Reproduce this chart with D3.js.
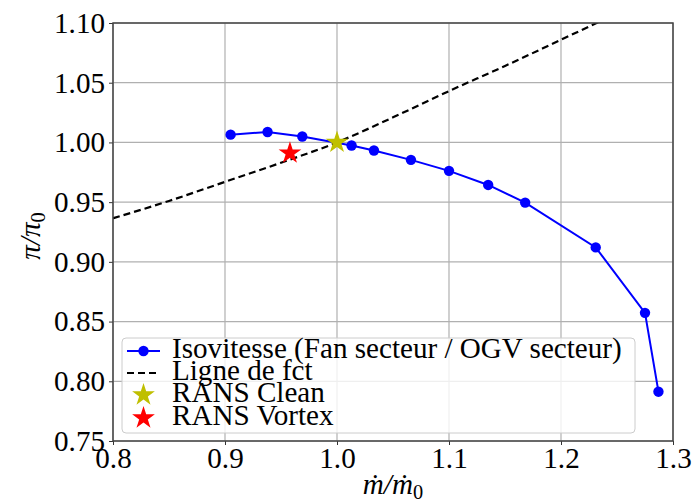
<!DOCTYPE html>
<html>
<head>
<meta charset="utf-8">
<script src="https://cdn.jsdelivr.net/npm/d3@7/dist/d3.min.js"></script>
<style>
  body { margin: 0; background: #fff; }
  svg { display: block; }
  svg text { font-family: "Liberation Serif", "Times New Roman", Times, "DejaVu Serif", serif; fill: #000; }
</style>
</head>
<body>
<svg id="chart" width="699" height="503"></svg>
<script>
// ---- data ----
const isoX = [0.905, 0.938, 0.969, 1.013, 1.033, 1.066, 1.100, 1.135, 1.168, 1.231, 1.275, 1.287];
const isoY = [1.0065, 1.0087, 1.005, 0.9974, 0.9932, 0.9854, 0.9762, 0.9644, 0.9496, 0.9121, 0.8573, 0.7913];
const fctX = [0.80, 0.85, 0.90, 0.95, 1.00, 1.05, 1.10, 1.15, 1.20, 1.25];
const fctY = [0.9365, 0.951, 0.967, 0.983, 1.000, 1.021, 1.043, 1.064, 1.086, 1.108];
const cleanPt = [1.000, 1.000];
const vortexPt = [0.958, 0.991];
const xTicks = [0.8, 0.9, 1.0, 1.1, 1.2, 1.3];
const yTicks = [0.75, 0.80, 0.85, 0.90, 0.95, 1.00, 1.05, 1.10];
const legendLabels = ["Isovitesse (Fan secteur / OGV secteur)", "Ligne de fct", "RANS Clean", "RANS Vortex"];

// ---- layout ----
const L = 113, R = 673, T = 23, B = 441;
const FONT = "'Liberation Serif', 'Times New Roman', Times, 'DejaVu Serif', serif";
const svg = d3.select("#chart");
const x = d3.scaleLinear().domain([0.8, 1.3]).range([L, R]);
const y = d3.scaleLinear().domain([0.75, 1.10]).range([B, T]);

// fit font size so the longest legend entry matches the reference width (~450px)
const probe = svg.append("text").attr("font-family", FONT).attr("font-size", 20).text(legendLabels[0]);
const w20 = probe.node().getComputedTextLength();
probe.remove();
const FS = Math.max(18, Math.min(34, 20 * 450 / w20));

// grid
const grid = svg.append("g");
grid.selectAll("line.gx").data(xTicks).enter().append("line")
  .attr("x1", d => x(d)).attr("x2", d => x(d)).attr("y1", T).attr("y2", B)
  .attr("stroke", "#b0b0b0").attr("stroke-width", 1.2);
grid.selectAll("line.gy").data(yTicks).enter().append("line")
  .attr("y1", d => y(d)).attr("y2", d => y(d)).attr("x1", L).attr("x2", R)
  .attr("stroke", "#b0b0b0").attr("stroke-width", 1.2);

// clip
svg.append("clipPath").attr("id", "clip").append("rect")
  .attr("x", L).attr("y", T).attr("width", R - L).attr("height", B - T);
const plot = svg.append("g").attr("clip-path", "url(#clip)");

// dashed operating line
const fctData = fctX.map((v, i) => [v, fctY[i]]);
plot.append("path").datum(fctData)
  .attr("d", d3.line().x(d => x(d[0])).y(d => y(d[1])).curve(d3.curveMonotoneX))
  .attr("fill", "none").attr("stroke", "#000").attr("stroke-width", 2.2)
  .attr("stroke-dasharray", "7,4");

// iso-speed line
const isoData = isoX.map((v, i) => [v, isoY[i]]);
svg.append("path").datum(isoData)
  .attr("d", d3.line().x(d => x(d[0])).y(d => y(d[1])))
  .attr("fill", "none").attr("stroke", "#0000ff").attr("stroke-width", 2);
svg.selectAll("circle.iso").data(isoData).enter().append("circle")
  .attr("cx", d => x(d[0])).attr("cy", d => y(d[1])).attr("r", 5.2).attr("fill", "#0000ff");

// stars
const star = d3.symbol().type(d3.symbolStar).size(160);
svg.append("path").attr("d", star)
  .attr("transform", `translate(${x(vortexPt[0])},${y(vortexPt[1])})`).attr("fill", "#ff0000");
svg.append("path").attr("d", star)
  .attr("transform", `translate(${x(cleanPt[0])},${y(cleanPt[1])})`).attr("fill", "#bfbf00");

// axes
const xAxis = d3.axisBottom(x).tickValues(xTicks).tickFormat(d3.format(".1f")).tickSize(4).tickPadding(2);
const yAxis = d3.axisLeft(y).tickValues(yTicks).tickFormat(d3.format(".2f")).tickSize(4).tickPadding(4);
const gx = svg.append("g").attr("transform", `translate(0,${B})`).call(xAxis);
const gy = svg.append("g").attr("transform", `translate(${L},0)`).call(yAxis);
[gx, gy].forEach(g => {
  g.attr("font-family", FONT).attr("font-size", FS);
  g.select(".domain").remove();
  g.selectAll("line").attr("stroke", "#333").attr("stroke-width", 1);
  g.selectAll("text").attr("font-size", FS).attr("font-family", FONT).attr("fill", "#000");
});
// frame
svg.append("rect").attr("x", L).attr("y", T).attr("width", R - L).attr("height", B - T)
  .attr("fill", "none").attr("stroke", "#444").attr("stroke-width", 1.5);

// axis labels
const xl = svg.append("text").attr("x", (L + R) / 2).attr("y", 494).attr("text-anchor", "middle")
  .attr("font-family", FONT).attr("font-size", FS).attr("font-style", "italic");
xl.append("tspan").text("ṁ/ṁ");
xl.append("tspan").attr("font-style", "normal").attr("font-size", FS * 0.7).attr("dy", 5).text("0");

const yl = svg.append("text").attr("transform", `translate(40,${(T + B) / 2 + 4}) rotate(-90)`)
  .attr("text-anchor", "middle").attr("font-family", FONT).attr("font-size", FS).attr("font-style", "italic");
yl.append("tspan").text("π/π");
yl.append("tspan").attr("font-style", "normal").attr("font-size", FS * 0.7).attr("dy", 5).text("0");

// legend
const lg = svg.append("g");
lg.append("rect").attr("x", 122).attr("y", 338).attr("width", 513).attr("height", 95)
  .attr("rx", 4).attr("fill", "#fff").attr("fill-opacity", 0.8)
  .attr("stroke", "#cccccc").attr("stroke-width", 1);
const rowY = [351, 373, 395, 418];
const hx1 = 127, hx2 = 160, tx = 172;
lg.append("line").attr("x1", hx1).attr("x2", hx2).attr("y1", rowY[0]).attr("y2", rowY[0])
  .attr("stroke", "#0000ff").attr("stroke-width", 2);
lg.append("circle").attr("cx", (hx1 + hx2) / 2).attr("cy", rowY[0]).attr("r", 5.2).attr("fill", "#0000ff");
lg.append("line").attr("x1", hx1).attr("x2", hx2).attr("y1", rowY[1]).attr("y2", rowY[1])
  .attr("stroke", "#000").attr("stroke-width", 2.2).attr("stroke-dasharray", "7,4");
lg.append("path").attr("d", star).attr("transform", `translate(${(hx1 + hx2) / 2},${rowY[2]})`).attr("fill", "#bfbf00");
lg.append("path").attr("d", star).attr("transform", `translate(${(hx1 + hx2) / 2},${rowY[3]})`).attr("fill", "#ff0000");
lg.selectAll("text.lt").data(legendLabels).enter().append("text")
  .attr("x", tx).attr("y", (d, i) => rowY[i] + 7).attr("font-family", FONT).attr("font-size", FS).text(d => d);
</script>
</body>
</html>
